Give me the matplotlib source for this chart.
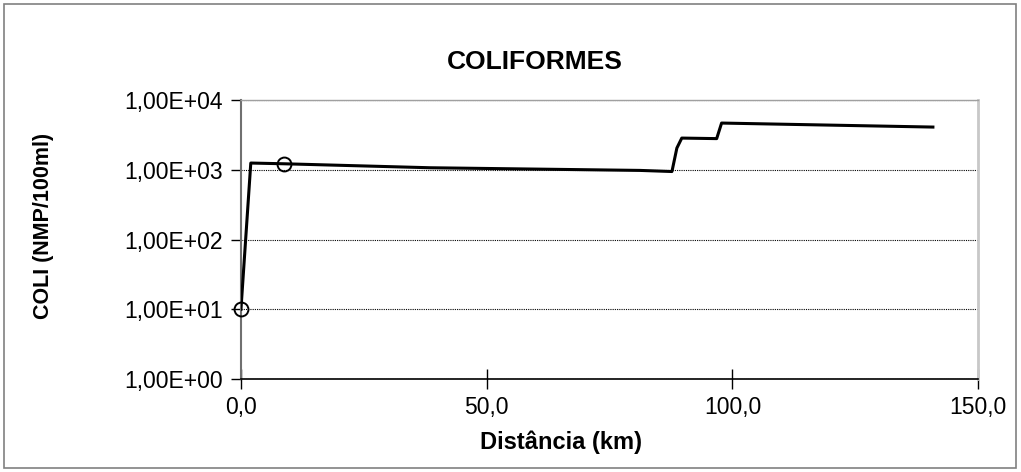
import matplotlib
matplotlib.use("Agg")
import math
import matplotlib.pyplot as plt
from matplotlib.patches import Rectangle
from matplotlib.ticker import FixedLocator, FuncFormatter

plt.rcParams["font.family"] = ["Liberation Sans", "DejaVu Sans"]

# ── dados ──
dist_km = [0.0, 2.0, 8.8, 38.5, 81.2, 87.7, 88.7, 89.7, 96.8, 97.8, 140.8]
coli = [10, 1250, 1220, 1070, 980, 945, 2050, 2850, 2800, 4680, 4100]

obs_km = [0.0, 8.8]
obs_coli = [10, 1220]

x_ticks = [0, 50, 100, 150]
y_ticks = [1, 10, 100, 1000, 10000]

fig = plt.figure(figsize=(10.21, 4.72), dpi=100)
fig.patch.set_facecolor("white")
ax = fig.add_axes([0.236, 0.197, 0.722, 0.591])

ax.plot(dist_km, coli, color="black", lw=2.2, zorder=3)
ax.plot(obs_km, obs_coli, ls="none", marker="o", ms=10, mfc="none",
        mec="black", mew=1.4, zorder=4, clip_on=False)

ax.set_yscale("log")
ax.set_xlim(0, 150)
ax.set_ylim(1, 10000)
ax.xaxis.set_major_locator(FixedLocator(x_ticks))
ax.yaxis.set_major_locator(FixedLocator(y_ticks))
ax.yaxis.set_minor_locator(FixedLocator([]))
ax.xaxis.set_major_formatter(FuncFormatter(lambda v, p: f"{v:.1f}".replace(".", ",")))


def sci_fmt(v, p):
    exp = int(round(math.log10(v)))
    return f"1,00E+{exp:02d}"


ax.yaxis.set_major_formatter(FuncFormatter(sci_fmt))

ax.grid(axis="y", which="major", color="black", ls=(0, (1, 1)), lw=0.8)
ax.set_axisbelow(True)

ax.spines["left"].set_color("#707070")
ax.spines["left"].set_linewidth(1.5)
ax.spines["bottom"].set_color("black")
ax.spines["bottom"].set_linewidth(1.2)
ax.spines["right"].set_color("#c8c8c8")
ax.spines["right"].set_linewidth(2.0)
ax.spines["top"].set_color("#a0a0a0")
ax.spines["top"].set_linestyle((0, (1, 1)))
ax.spines["top"].set_linewidth(1.0)

ax.tick_params(axis="y", direction="out", length=7, width=1, colors="black",
               labelsize=16.5, pad=6)
ax.tick_params(axis="x", direction="inout", length=14, width=1, colors="black",
               labelsize=16.5, pad=5)

fig.text(0.524, 0.869, "COLIFORMES", ha="center", va="center",
         fontsize=19, fontweight="bold")
fig.text(0.549, 0.064, "Distância (km)", ha="center", va="center",
         fontsize=17, fontweight="bold")
fig.text(0.0425, 0.521, "COLI (NMP/100ml)", ha="center", va="center",
         rotation=90, fontsize=15.5, fontweight="bold")

fig.patches.append(Rectangle((0.004, 0.008), 0.991, 0.984, transform=fig.transFigure,
                             fill=False, edgecolor="#808080", lw=1.2))

fig.savefig("out.png", dpi=100, facecolor="white")
